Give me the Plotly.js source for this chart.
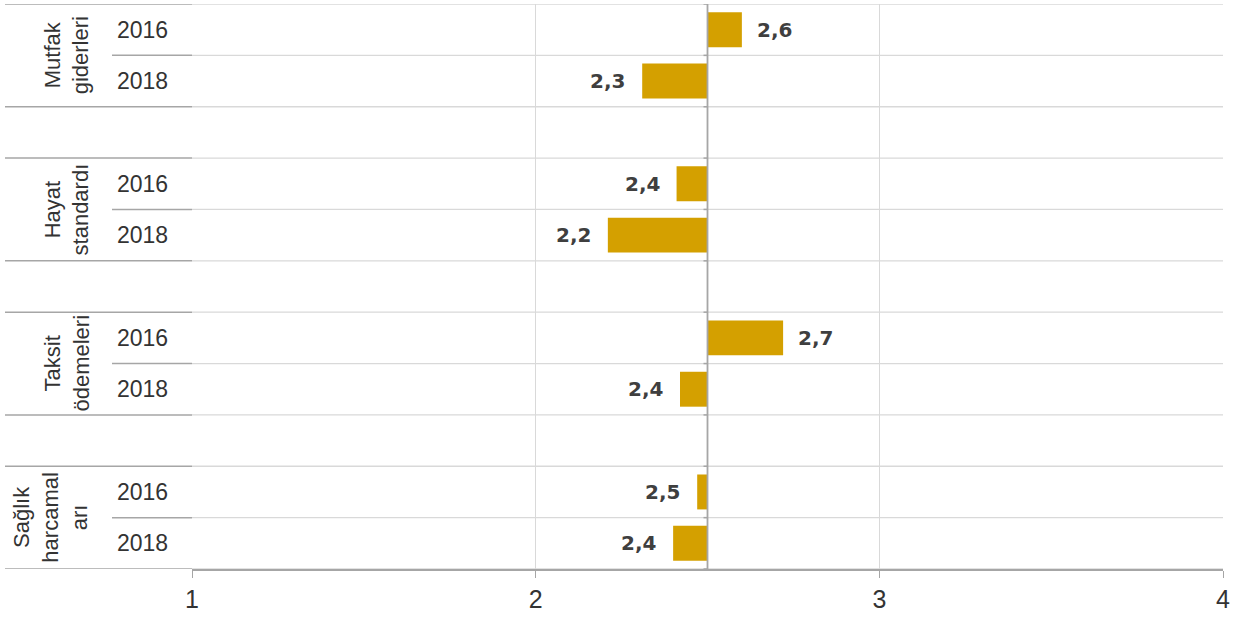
<!DOCTYPE html>
<html><head><meta charset="utf-8">
<script src="https://cdn.plot.ly/plotly-3.0.1.min.js"></script>
<style>html,body{margin:0;padding:0;background:#fff}#chart{width:1242px;height:619px}</style>
</head><body><div id="chart"></div>
<script>
const categories = ['Mutfak<br>giderleri', 'Hayat<br>standardı', 'Taksit<br>ödemeleri', 'Sağlık<br>harcamal<br>arı'];
const years = ['2016', '2018'];
const values2016 = [2.60, 2.41, 2.72, 2.47];
const values2018 = [2.31, 2.21, 2.42, 2.40];
const baseValue = 2.5;
const xTicks = [1, 2, 3, 4];

const seriesByYear = [values2016, values2018];
const ys = [], xs = [], vals = [];
categories.forEach((c, g) => {
  years.forEach((yr, k) => {
    ys.push(g * 3 + k);
    vals.push(seriesByYear[k][g]);
    xs.push(seriesByYear[k][g] - baseValue);
  });
});

const fmt = v => v.toFixed(1).replace('.', ',');
const leftPx = 192, plotW = 1031;
const px = p => (p - leftPx) / plotW;

const shapes = [];
const annotations = [];
const nRows = categories.length * 3 - 1;
for (let i = 0; i <= nRows; i++) {
  const b = i - 0.5;
  shapes.push({type: 'line', xref: 'paper', yref: 'y', x0: 0, x1: 1, y0: b, y1: b,
    line: {color: '#d9d9d9', width: 1.3}, layer: 'below'});
  const between = (i % 3 === 1);
  shapes.push({type: 'line', xref: 'paper', yref: 'y', x0: between ? px(112) : px(5), x1: 0, y0: b, y1: b,
    line: {color: '#a6a6a6', width: 1.5}});
  shapes.push({type: 'line', xref: 'x', yref: 'y', xsizemode: 'pixel', xanchor: baseValue, x0: -4, x1: 0, y0: b, y1: b,
    line: {color: '#a6a6a6', width: 1.5}});
}
shapes.push({type: 'line', xref: 'x', yref: 'paper', x0: baseValue, x1: baseValue, y0: 0, y1: 1,
  line: {color: '#a6a6a6', width: 1.8}});

ys.forEach((y, i) => {
  const v = vals[i];
  annotations.push({xref: 'x', yref: 'y', x: v, y: y, text: fmt(v), showarrow: false,
    xanchor: v >= baseValue ? 'left' : 'right', xshift: v >= baseValue ? 13 : -15,
    font: {family: 'DejaVu Sans', size: 20, color: '#3f3f3f', weight: 'bold'}});
  annotations.push({xref: 'paper', yref: 'y', x: px(142), y: y, text: years[i % 2], showarrow: false,
    xanchor: 'center', font: {family: 'Liberation Sans, Arial', size: 23, color: '#333'}});
});
categories.forEach((c, g) => {
  const lines = c.split('<br>').length;
  annotations.push({xref: 'paper', yref: 'y', x: px(lines === 3 ? 50 : 67), y: g * 3 + 0.5, text: c, showarrow: false,
    textangle: -90, xanchor: 'center', yanchor: 'middle',
    font: {family: 'Liberation Sans, Arial', size: 22, color: '#333'}});
});

Plotly.newPlot('chart', [{
  type: 'bar', orientation: 'h', y: ys, x: xs, base: baseValue, width: 0.68,
  marker: {color: '#d4a000', line: {width: 0}}, hoverinfo: 'skip'
}], {
  width: 1242, height: 619,
  margin: {l: leftPx, r: 19, t: 4, b: 50},
  paper_bgcolor: '#fff', plot_bgcolor: '#fff',
  showlegend: false,
  xaxis: {range: [1, 4], tickvals: xTicks, ticktext: xTicks.map(String), showgrid: true, gridcolor: '#d9d9d9', gridwidth: 1.3,
    zeroline: false, showline: true, linecolor: '#a6a6a6', linewidth: 1.8, ticks: 'outside', ticklen: 7, tickcolor: '#a6a6a6',
    tickfont: {family: 'Liberation Sans, Arial', size: 25, color: '#333'}},
  yaxis: {range: [nRows - 0.5, -0.5], showgrid: false, zeroline: false, showticklabels: false, ticks: ''},
  shapes: shapes, annotations: annotations
}, {displayModeBar: false, staticPlot: true});
</script></body></html>
